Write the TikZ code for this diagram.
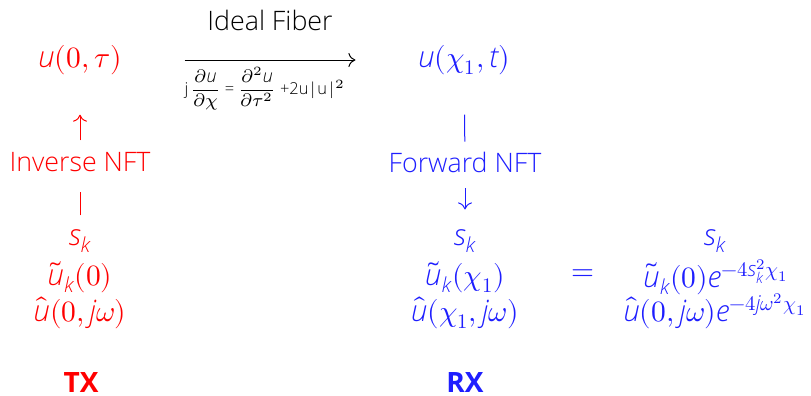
\documentclass[tikz,border=0pt]{standalone}
\usepackage{fontspec}
\usepackage{unicode-math}
\setmainfont{Open Sans Light}[BoldFont={Open Sans Bold}]
\setmathfont{Latin Modern Math}[Scale=1.1]
\setmathfont{Open Sans Light Italic}[range=it/{latin,Latin}, Scale=1.1]
\usetikzlibrary{arrows.meta}
\definecolor{txred}{RGB}{255,0,0}
\definecolor{rxblue}{RGB}{30,30,255}
\begin{document}
\begin{tikzpicture}[x=0.5pt, y=-0.5pt,
    txt/.style={inner sep=0pt, outer sep=0pt, font=\fontsize{13.4}{15}\selectfont},
    pde/.style={inner sep=0pt, font=\fontsize{8.2}{9}\selectfont},
    side/.style={inner sep=0pt, font=\fontsize{14}{16}\selectfont\bfseries},
    link/.style={line width=0.5pt},
    tip/.style={line width=0.5pt, -{To[length=3.5pt,width=7pt]}}]
  \useasboundingbox (0,0) rectangle (811,396);
  % sender side
  \node[txt, txred] (u0) at (80,60) {$u(0,\tau)$};
  \node[txt, txred] (inv) at (80,162) {Inverse NFT};
  \node[txt, txred] (sk0) at (80,241) {$s_k$};
  \node[txt, txred] (uk0) at (80,277) {$\tilde{u}_k(0)$};
  \node[txt, txred] (uh0) at (80,313) {$\hat{u}(0,j\omega)$};
  \node[side, txred] (tx) at (81,383) {TX};
  \draw[link, txred, shorten <=7pt, shorten >=10pt] (sk0) -- (inv);
  \draw[tip, txred, shorten <=6pt, shorten >=20pt] (inv) -- (u0);
  % fiber
  \node[txt] (fib) at (270,20) {Ideal Fiber};
  \node[pde] (nlse) at (265,89) {j\,$\displaystyle\frac{\partial u}{\partial \chi}$ = $\displaystyle\frac{\partial^2 u}{\partial \tau^2}$ +2u|u|$^2$};
  % receiver side
  \node[txt, rxblue] (u1) at (464,60) {$u(\chi_1,t)$};
  \node[txt, rxblue] (fwd) at (465,162) {Forward NFT};
  \node[txt, rxblue] (sk1) at (465,241) {$s_k$};
  \node[txt, rxblue] (uk1) at (465,277) {$\tilde{u}_k(\chi_1)$};
  \node[txt, rxblue] (uh1) at (465,313) {$\hat{u}(\chi_1,j\omega)$};
  \node[side, rxblue] (rx) at (465,383) {RX};
  \node[txt, rxblue] (eq) at (583,275) {$=$};
  \node[txt, rxblue] (sk2) at (715,241) {$s_k$};
  \node[txt, rxblue] (uk2) at (716,277) {$\tilde{u}_k(0)e^{-4s_k^2\chi_1}$};
  \node[txt, rxblue] (uh2) at (715,311) {$\hat{u}(0,j\omega)e^{-4j\omega^2\chi_1}$};
  \draw[link, rxblue, shorten <=20pt, shorten >=5pt] (u1) -- (fwd);
  \draw[tip, rxblue, shorten <=8pt, shorten >=10pt] (fwd) -- (sk1);
  \draw[tip, shorten <=31.5pt, shorten >=31.5pt] (u0) -- (u1);
\end{tikzpicture}
\end{document}
